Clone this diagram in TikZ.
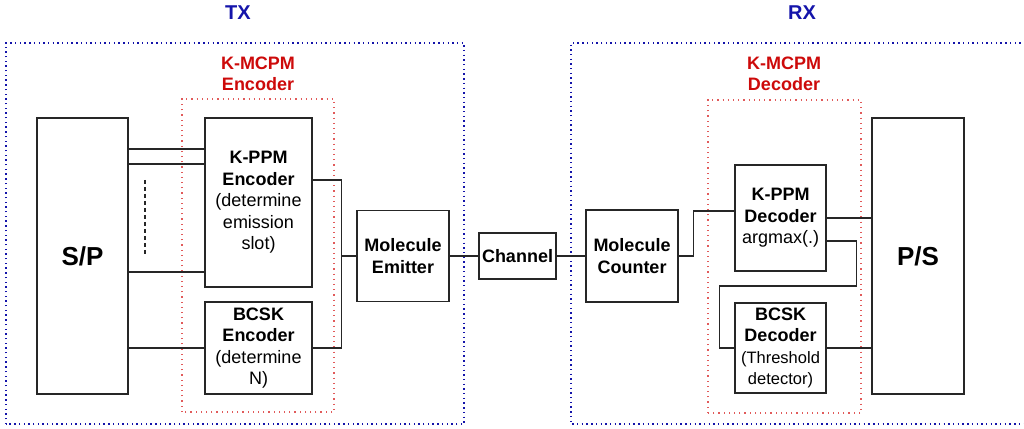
\documentclass[tikz,border=0pt]{standalone}
\usepackage{fontspec}
\setmainfont{Liberation Sans}
\usepackage{tikz}
\usetikzlibrary{positioning,calc}
\usepackage{xcolor}
\definecolor{txblue}{RGB}{20,20,170}
\definecolor{encred}{RGB}{205,10,10}
\definecolor{boxred}{RGB}{225,90,90}
\tikzset{
  blk/.style={draw=black!85, line width=1.5pt, inner sep=0pt, align=center,
    font=\fontsize{18}{21.5}\selectfont},
  bigblk/.style={blk, font=\fontsize{26}{30}\selectfont\bfseries},
  wire/.style={draw=black!85, line width=1.3pt},
  side/.style={draw=txblue, line width=1.3pt, dash pattern=on 1.4pt off 3.3pt},
  grp/.style={draw=boxred, line width=1.1pt, dash pattern=on 1.2pt off 4pt},
  sidelab/.style={text=txblue, font=\fontsize{20}{24}\selectfont\bfseries},
  grplab/.style={text=encred, align=center, font=\fontsize{18}{21.5}\selectfont\bfseries}
}

\begin{document}
\begin{tikzpicture}[x=1pt,y=1pt]
\useasboundingbox (0,0) rectangle (1024,428);

% TX and RX frames
\draw[side] (6,4) rectangle (464,385);
\draw[side] (1030,385) -- (571,385) -- (571,4) -- (1030,4);
\node[sidelab] (txlab) at (238,415) {TX};
\node[sidelab] (rxlab) at (802,415) {RX};

% K-MCPM groups
\draw[grp] (182,16) rectangle (334,329);
\draw[grp] (708,15) rectangle (861,328);
\node[grplab] (enclab) at (258,354) {K-MCPM\\Encoder};
\node[grplab] (declab) at (784,354) {K-MCPM\\Decoder};

% Transmitter blocks
\node[bigblk, minimum width=91, minimum height=276] (sp) at (82.5,172) {S/P};
\node[blk, minimum width=107, minimum height=169] (kppmenc) at (258.5,225.5)
  {\textbf{K-PPM}\\\textbf{Encoder}\\(determine\\emission\\slot)};
\node[blk, minimum width=107, minimum height=92] (bcskenc) at (258.5,80)
  {\textbf{BCSK}\\\textbf{Encoder}\\(determine\\N)};
\node[blk, minimum width=92, minimum height=91] (emitter) at (403,172)
  {\textbf{Molecule}\\\textbf{Emitter}};

% Channel
\node[blk, minimum width=77, minimum height=46] (channel) at (517.5,172) {\textbf{Channel}};

% Receiver blocks
\node[blk, minimum width=92, minimum height=92] (counter) at (632,172)
  {\textbf{Molecule}\\\textbf{Counter}};
\node[blk, minimum width=91, minimum height=106] (kppmdec) at (780.5,210)
  {\textbf{K-PPM}\\\textbf{Decoder}\\argmax(.)};
\node[blk, minimum width=91, minimum height=90] (bcskdec) at (780.5,80)
  {\textbf{BCSK}\\\textbf{Decoder}\\{\fontsize{16.5}{21.5}\selectfont (Threshold}\\{\fontsize{16.5}{21.5}\selectfont detector)}};
\node[bigblk, minimum width=92, minimum height=276] (ps) at (918,172) {P/S};

% S/P outputs
\coordinate (in1) at ([yshift=53.5]kppmenc.west);
\coordinate (in2) at ([yshift=38.5]kppmenc.west);
\coordinate (in3) at ([yshift=-69.5]kppmenc.west);
\foreach \c in {in1,in2,in3}{
  \draw[wire] (\c) -- (\c -| sp.east);
}
\draw[wire] (bcskenc.west) -- (bcskenc.west -| sp.east);
\draw[black!85, line width=1.5pt, dash pattern=on 4pt off 3pt]
  ([xshift=16,yshift=76]sp.center -| sp.east) -- ([xshift=16]sp.east);

% Encoder outputs to emitter
\coordinate (bus) at ([xshift=-15]emitter.west);
\draw[wire] ([yshift=22.5]kppmenc.east) -| (bus) |- (bcskenc.east);
\draw[wire] (bus) -- (emitter.west);

% Through the channel
\draw[wire] (emitter.east) -- (channel.west);
\draw[wire] (channel.east) -- (counter.west);

% Counter to decoders
\draw[wire] (counter.east) -- ++(15,0) |- ([yshift=7]kppmdec.west);
\draw[wire] ([yshift=-23]kppmdec.east) -| ([xshift=30,yshift=-68]kppmdec.east)
  -| ([xshift=-15]bcskdec.west) -- (bcskdec.west);

% Decoder outputs
\draw[wire] (kppmdec.east) -- (kppmdec.east -| ps.west);
\draw[wire] (bcskdec.east) -- (bcskdec.east -| ps.west);
\end{tikzpicture}
\end{document}
